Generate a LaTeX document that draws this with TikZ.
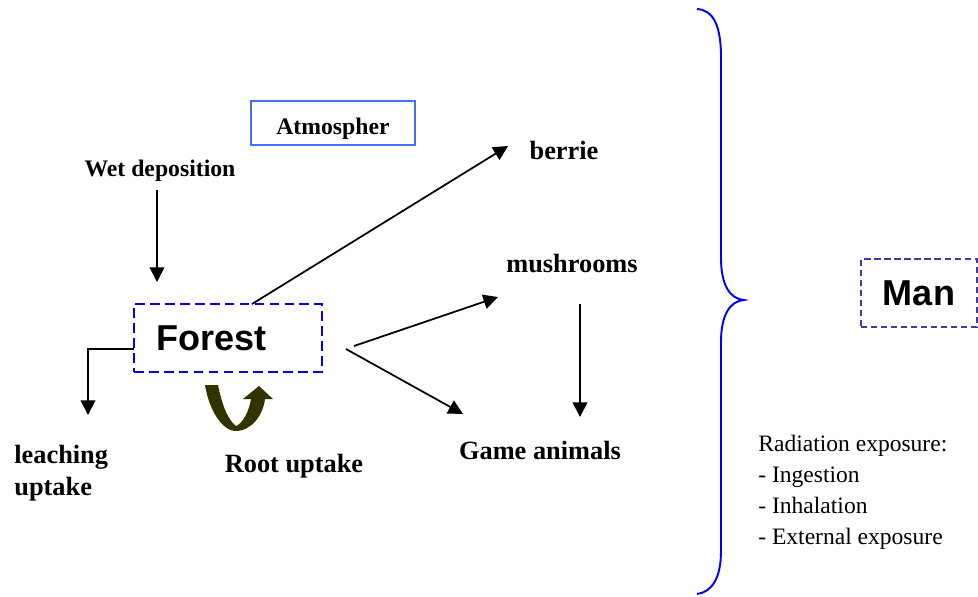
\documentclass[tikz,border=0pt]{standalone}
\usepackage{fontspec}
\setmainfont{Liberation Serif}
\setsansfont{Liberation Sans}
\usepackage{xcolor}
\usetikzlibrary{arrows.meta}
\definecolor{atmoblue}{RGB}{70,110,250}
\definecolor{manblue}{RGB}{60,60,170}
\definecolor{rootolive}{RGB}{51,51,0}

\begin{document}
\begin{tikzpicture}[x=0.02cm,y=-0.02cm,
    lbl/.style={font=\fontsize{15}{18}\selectfont\bfseries, inner sep=0pt},
    smalllbl/.style={font=\fontsize{13.5}{18}\selectfont\bfseries, inner sep=0pt},
    bigsans/.style={font=\sffamily\bfseries\fontsize{20.5}{24}\selectfont},
    flow/.style={line width=1pt,-{Triangle[length=8.3pt,width=8.3pt]}}]
    \useasboundingbox (0,0) rectangle (978,596);

    % boxes
    \node[draw=atmoblue, line width=0.9pt, minimum width=3.28cm, inner sep=0pt,
          text height=0.66cm, text depth=0.22cm, smalllbl] (atmo) at (333,123) {Atmospher};
    \node[draw=blue, line width=1.1pt, dash pattern=on 5.5pt off 3pt,
          minimum height=1.36cm, text width=2.88cm, inner xsep=0.44cm, align=left,
          bigsans] (forest) at (228,338) {Forest};
    \node[draw=manblue, line width=0.9pt, dash pattern=on 3.5pt off 2.2pt,
          minimum width=2.32cm, minimum height=1.36cm, bigsans] (man) at (919,293) {Man};

    % labels
    \node[smalllbl] (wet) at (160,171) {Wet deposition};
    \node[lbl] (berrie) at (564,150) {berrie};
    \node[lbl] (mush) at (572,264) {mushrooms};
    \node[lbl] (game) at (540,450) {Game animals};
    \node[lbl] (root) at (294,466) {Root uptake};
    \node[lbl, anchor=west, align=left] (leach) at (14,473) {leaching\\uptake};
    \node[anchor=west, align=left, inner sep=0pt, font=\fontsize{13.4}{17.7}\selectfont]
        (expo) at (758,492) {Radiation exposure:\\- Ingestion\\- Inhalation\\- External exposure};

    % connector ends
    \coordinate (wetA) at (157,190);   \coordinate (wetB) at (157,282);
    \coordinate (forN) at (252,304);   \coordinate (berA) at (508,146);
    \coordinate (forE1) at (354,346);  \coordinate (mushA) at (498,297);
    \coordinate (forE2) at (346,349);  \coordinate (gameA) at (463,414);
    \coordinate (mushB) at (580,304);  \coordinate (gameB) at (580,417);
    \coordinate (forW) at (134,349);   \coordinate (leachA) at (88,415);

    \draw[flow] (wetA) -- (wetB);
    \draw[flow] (forN) -- (berA);
    \draw[flow] (forE1) -- (mushA);
    \draw[flow] (forE2) -- (gameA);
    \draw[flow] (mushB) -- (gameB);
    \draw[flow] (forW) -| (leachA);

    % root uptake arrow
    \fill[rootolive] (205,385) .. controls (210,415) and (225,431) .. (235,431)
        .. controls (252,431) and (263,415) .. (265,399) -- (273,399) -- (259,386)
        -- (243,399) -- (251,399) .. controls (249,412) and (242,424) .. (236,426)
        .. controls (228,420) and (222,405) .. (218,385) -- cycle;

    % brace
    \draw[blue, line width=1.1pt] (697,9) .. controls (713,10) and (721,25) .. (721,57)
        -- (721,258) .. controls (721,285) and (730,299) .. (744,300)
        .. controls (730,301) and (721,315) .. (721,342)
        -- (721,551) .. controls (721,578) and (712,592) .. (697,594);
\end{tikzpicture}
\end{document}
